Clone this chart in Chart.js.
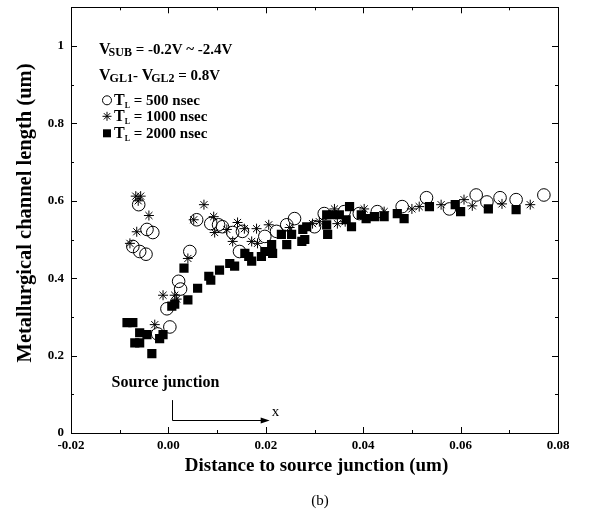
<!DOCTYPE html>
<html><head><meta charset="utf-8">
<script src="https://cdn.jsdelivr.net/npm/chart.js@4.4.1/dist/chart.umd.min.js"></script>
<style>html,body{margin:0;padding:0;background:#fff;}#wrap{width:608px;height:515px;}</style>
</head><body><div id="wrap"><canvas id="c" width="608" height="515"></canvas></div>
<script>
const xTicks = [-0.02, 0, 0.02, 0.04, 0.06, 0.08];
const xTickLabels = ["-0.02", "0.00", "0.02", "0.04", "0.06", "0.08"];
const xMinorTicks = [-0.01, 0.01, 0.03, 0.05, 0.07];
const yTicks = [0, 0.2, 0.4, 0.6, 0.8, 1];
const yTickLabels = ["0", "0.2", "0.4", "0.6", "0.8", "1"];
const yMinorTicks = [0.1, 0.3, 0.5, 0.7, 0.9];
const seriesNames = ["500 nsec", "1000 nsec", "2000 nsec"];
const xTitle = "Distance to source junction (um)";
const yTitle = "Metallurgical channel length (um)";

const x500 = [-0.0073, -0.0059, -0.0046, -0.0061, -0.0044, -0.0032, -0.0022, 0.0003, -0.0003, 0.0021, 0.0025, 0.0044, 0.0058, 0.0087, 0.0103, 0.0111, 0.0132, 0.0146, 0.0152, 0.0198, 0.0222, 0.0243, 0.0259, 0.0300, 0.0320, 0.0361, 0.0392, 0.0429, 0.0480, 0.0530, 0.0577, 0.0632, 0.0654, 0.0681, 0.0714, 0.0771];
const y500 = [0.482, 0.469, 0.462, 0.590, 0.526, 0.518, 0.256, 0.274, 0.321, 0.392, 0.372, 0.469, 0.551, 0.541, 0.538, 0.533, 0.518, 0.469, 0.521, 0.508, 0.521, 0.538, 0.554, 0.533, 0.567, 0.572, 0.567, 0.572, 0.585, 0.608, 0.579, 0.615, 0.597, 0.608, 0.603, 0.615];

const x1000 = [-0.0067, -0.0057, -0.0062, -0.0040, -0.0065, -0.0079, -0.0028, -0.0011, 0.0013, 0.0017, 0.0040, 0.0052, 0.0073, 0.0093, 0.0095, 0.0120, 0.0142, 0.0132, 0.0156, 0.0181, 0.0171, 0.0183, 0.0206, 0.0249, 0.0296, 0.0310, 0.0341, 0.0347, 0.0363, 0.0402, 0.0443, 0.0500, 0.0515, 0.0560, 0.0607, 0.0624, 0.0685, 0.0743];
const y1000 = [0.612, 0.612, 0.600, 0.562, 0.520, 0.490, 0.280, 0.356, 0.356, 0.346, 0.451, 0.551, 0.590, 0.559, 0.518, 0.526, 0.544, 0.495, 0.528, 0.528, 0.495, 0.490, 0.538, 0.531, 0.541, 0.546, 0.579, 0.541, 0.546, 0.579, 0.572, 0.579, 0.585, 0.590, 0.603, 0.587, 0.592, 0.590];

const x2000 = [-0.0085, -0.0073, -0.0059, -0.0044, -0.0069, -0.0059, -0.0034, -0.0011, -0.0018, 0.0007, 0.0013, 0.0040, 0.0032, 0.0060, 0.0083, 0.0087, 0.0105, 0.0126, 0.0136, 0.0157, 0.0165, 0.0171, 0.0191, 0.0198, 0.0214, 0.0212, 0.0232, 0.0243, 0.0253, 0.0274, 0.0280, 0.0276, 0.0284, 0.0325, 0.0327, 0.0325, 0.0337, 0.0351, 0.0365, 0.0372, 0.0376, 0.0396, 0.0406, 0.0423, 0.0443, 0.0470, 0.0484, 0.0536, 0.0589, 0.0600, 0.0657, 0.0714];
const y2000 = [0.285, 0.285, 0.259, 0.254, 0.233, 0.233, 0.205, 0.254, 0.244, 0.328, 0.333, 0.344, 0.426, 0.374, 0.405, 0.395, 0.421, 0.438, 0.431, 0.464, 0.456, 0.444, 0.456, 0.469, 0.464, 0.487, 0.513, 0.487, 0.513, 0.495, 0.500, 0.526, 0.533, 0.538, 0.513, 0.564, 0.564, 0.564, 0.551, 0.585, 0.533, 0.564, 0.554, 0.559, 0.559, 0.567, 0.554, 0.585, 0.590, 0.572, 0.579, 0.577];

const pts = (xs, ys) => xs.map((x, i) => ({x: x, y: ys[i]}));
const SERIF = '"Liberation Serif", "Times New Roman", serif';

function runs(ctx, x, y, list) {
  let cx = x;
  for (const r of list) {
    ctx.font = (r.w || 'bold') + ' ' + r.s + 'px ' + SERIF;
    cx += (r.dx || 0);
    ctx.fillText(r.t, cx, y + (r.dy || 0));
    cx += ctx.measureText(r.t).width;
  }
}

const decor = {
  id: 'decor',
  afterDraw(chart) {
    const ctx = chart.ctx, xs = chart.scales.x, ys = chart.scales.y, a = chart.chartArea;
    ctx.save();
    ctx.strokeStyle = '#000'; ctx.fillStyle = '#000'; ctx.lineWidth = 1;
    ctx.strokeRect(Math.round(a.left) + 0.5, Math.round(a.top) + 0.5, Math.round(a.right - a.left), Math.round(a.bottom - a.top));
    ctx.beginPath();
    const tx = (v, len) => { const p = Math.round(xs.getPixelForValue(v)) + 0.5;
      ctx.moveTo(p, a.bottom); ctx.lineTo(p, a.bottom - len); ctx.moveTo(p, a.top); ctx.lineTo(p, a.top + len); };
    const ty = (v, len) => { const p = Math.round(ys.getPixelForValue(v)) + 0.5;
      ctx.moveTo(a.left, p); ctx.lineTo(a.left + len, p); ctx.moveTo(a.right, p); ctx.lineTo(a.right - len, p); };
    xTicks.forEach(v => tx(v, 6)); xMinorTicks.forEach(v => tx(v, 3));
    yTicks.forEach(v => ty(v, 6)); yMinorTicks.forEach(v => ty(v, 3));
    ctx.stroke();

    // legend / annotation text
    ctx.textBaseline = 'alphabetic'; ctx.textAlign = 'left';
    const lx = a.left + 28;
    runs(ctx, lx, a.top + 47, [{t: 'V', s: 16}, {t: 'SUB', s: 12, dy: 2, dx: -2}, {t: ' = -0.2V ~ -2.4V', s: 15}]);
    runs(ctx, lx, a.top + 73, [{t: 'V', s: 16}, {t: 'GL1', s: 12, dy: 2, dx: -1}, {t: '- ', s: 15}, {t: 'V', s: 16}, {t: 'GL2', s: 12, dy: 2, dx: -2}, {t: ' = 0.8V', s: 15}]);
    const legY = [a.top + 93, a.top + 109, a.top + 126];
    const mx = a.left + 36;
    ctx.beginPath(); ctx.arc(mx, legY[0], 4.5, 0, Math.PI * 2); ctx.stroke();
    ctx.beginPath();
    for (let k = 0; k < 4; k++) { const ang = k * Math.PI / 4; const r = 4.5;
      ctx.moveTo(mx - r * Math.cos(ang), legY[1] - r * Math.sin(ang)); ctx.lineTo(mx + r * Math.cos(ang), legY[1] + r * Math.sin(ang)); }
    ctx.stroke();
    ctx.fillRect(mx - 4, legY[2] - 4, 8, 8);
    seriesNames.forEach((n, i) => {
      runs(ctx, mx + 7, legY[i] + 5, [{t: 'T', s: 16}, {t: 'L', s: 8, dy: 3, dx: 0}, {t: ' = ' + n, s: 15}]);
    });

    // source junction annotation
    ctx.font = 'bold 16px ' + SERIF; ctx.textAlign = 'center';
    ctx.fillText('Source junction', xs.getPixelForValue(-0.0006), ys.getPixelForValue(0.118));
    const x0 = Math.round(xs.getPixelForValue(0.0008)) + 0.5;
    const yTop = ys.getPixelForValue(0.085), yArr = Math.round(ys.getPixelForValue(0.033)) + 0.5;
    const xEnd = xs.getPixelForValue(0.0208);
    ctx.beginPath(); ctx.moveTo(x0, yTop); ctx.lineTo(x0, yArr); ctx.lineTo(xEnd - 6, yArr); ctx.stroke();
    ctx.beginPath(); ctx.moveTo(xEnd, yArr); ctx.lineTo(xEnd - 9, yArr - 3); ctx.lineTo(xEnd - 9, yArr + 3); ctx.closePath(); ctx.fill();
    ctx.font = '15px ' + SERIF; ctx.textAlign = 'left';
    ctx.fillText('x', xEnd + 2, ys.getPixelForValue(0.045));

    // axis titles
    ctx.font = 'bold 19px ' + SERIF; ctx.textAlign = 'center';
    ctx.fillText(xTitle, (a.left + a.right) / 2 + 2, 471);
    ctx.save(); ctx.translate(26, 213); ctx.rotate(-Math.PI / 2);
    ctx.font = 'bold 20.5px ' + SERIF; ctx.textBaseline = 'middle';
    ctx.fillText(yTitle, 0, 0); ctx.restore();
    ctx.font = '15px ' + SERIF; ctx.textBaseline = 'alphabetic';
    ctx.fillText('(b)', 320, 505);
    ctx.restore();
  }
};

new Chart(document.getElementById('c'), {
  type: 'scatter',
  data: {
    datasets: [
      {label: seriesNames[0], data: pts(x500, y500), pointStyle: 'circle', radius: 6.3, borderColor: '#000', backgroundColor: 'rgba(0,0,0,0)', borderWidth: 1},
      {label: seriesNames[1], data: pts(x1000, y1000), pointStyle: 'star', radius: 5, borderColor: '#000', backgroundColor: '#000', borderWidth: 1},
      {label: seriesNames[2], data: pts(x2000, y2000), pointStyle: 'rect', radius: 6.5, borderColor: '#000', backgroundColor: '#000', borderWidth: 0}
    ]
  },
  options: {
    responsive: false, animation: false, events: [], devicePixelRatio: 1,
    layout: {padding: {left: 0, right: 50, top: 5, bottom: 0}},
    plugins: {legend: {display: false}, tooltip: {enabled: false}},
    scales: {
      x: {type: 'linear', min: -0.02, max: 0.08,
        grid: {display: false, drawTicks: false}, border: {display: false},
        afterFit: s => { s.height = 82; s.paddingLeft = 0; s.paddingRight = 0; },
        afterBuildTicks: s => { s.ticks = xTicks.map(v => ({value: v})); },
        ticks: {padding: 5, color: '#000', maxRotation: 0, autoSkip: false,
          font: {family: SERIF, weight: 'bold', size: 13},
          callback: (v) => { const i = xTicks.findIndex(t => Math.abs(t - v) < 1e-9); return i >= 0 ? xTickLabels[i] : ''; }}},
      y: {type: 'linear', min: 0, max: 1.1,
        grid: {display: false, drawTicks: false}, border: {display: false},
        afterFit: s => { s.width = 71; s.paddingTop = 0; s.paddingBottom = 0; },
        afterBuildTicks: s => { s.ticks = yTicks.map(v => ({value: v})); },
        ticks: {padding: 7, color: '#000', autoSkip: false,
          font: {family: SERIF, weight: 'bold', size: 13},
          callback: (v) => { const i = yTicks.findIndex(t => Math.abs(t - v) < 1e-9); return i >= 0 ? yTickLabels[i] : ''; }}}
    }
  },
  plugins: [decor]
});
</script></body></html>
